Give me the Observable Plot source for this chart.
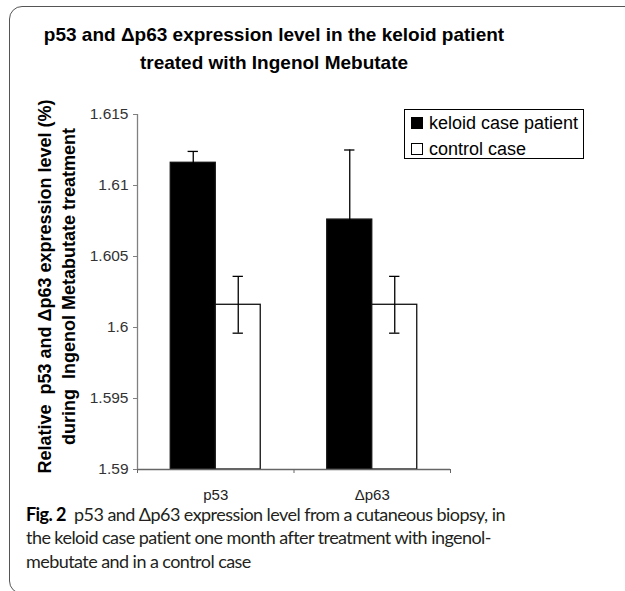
<!DOCTYPE html>
<html>
<head>
<meta charset="utf-8">
<script src="https://cdn.jsdelivr.net/npm/d3@7"></script>
<script src="https://cdn.jsdelivr.net/npm/@observablehq/plot@0.6"></script>
<style>
  html, body { margin: 0; padding: 0; background: #fff; }
  #wrap { position: relative; width: 625px; height: 591px; overflow: hidden; background: #fff; }
  #border { position: absolute; left: 9px; top: 6px; width: 700px; height: 588px; border: 1.3px solid #555; border-radius: 13px; box-sizing: border-box; }
  #title { position: absolute; left: 0; top: 21px; width: 548px; text-align: center; font: bold 19px "Liberation Sans", Arial, sans-serif; line-height: 28px; color: #000; }
  #chart { position: absolute; left: 0; top: 90px; }
  #legend { position: absolute; left: 404px; top: 109px; width: 180px; height: 50px; box-sizing: border-box; border: 1px solid #000; background: #fff; font: 18px "Liberation Sans", Arial, sans-serif; color: #000; }
  .row { position: absolute; left: 6px; height: 20px; line-height: 20px; white-space: nowrap; }
  .sw { position: absolute; left: 0; top: 4px; width: 12px; height: 12px; box-sizing: border-box; border: 1px solid #000; }
  .lab { position: absolute; left: 18px; top: 0; }
  #caption { position: absolute; left: 26px; top: 502.5px; width: 590px; font: 18px Lato, "Open Sans", sans-serif; letter-spacing: -0.56px; line-height: 23.5px; color: #231f20; white-space: nowrap; }
  #caption b { font-weight: 700; color: #000; }
</style>
</head>
<body>
<div id="wrap">
  <div id="border"></div>
  <div id="title">p53 and &#916;p63 expression level in the keloid patient<br>treated with Ingenol Mebutate</div>
  <div id="chart"></div>
  <div id="legend"></div>
  <div id="caption"><b>Fig. 2</b>&nbsp; p53 and &#916;p63 expression level from a cutaneous biopsy, in<br>the keloid case patient one month after treatment with ingenol-<br>mebutate and in a control case</div>
</div>
<script>
const categories = ["p53", "\u0394p63"];
const series = ["keloid case patient", "control case"];
const seriesFill = ["#000000", "#ffffff"];
const keloidValues = [1.6116, 1.6076];
const keloidErrors = [0.0008, 0.0049];
const controlValues = [1.6016, 1.6016];
const controlErrors = [0.0020, 0.0020];
const yTicks = [1.59, 1.595, 1.6, 1.605, 1.61, 1.615];
const yTitle = ["Relative\u00a0 p53 and \u0394p63 expression level (%)\nduring\u00a0 Ingenol Metabutate treatment"];

// style constants (fractions of one category slot)
const barWidth = 0.2875;
const capWidth = 0.066;

const yMin = yTicks[0], yMax = yTicks[yTicks.length - 1];
const rows = categories.flatMap((c, i) => [
  {category: c, series: series[0], value: keloidValues[i], err: keloidErrors[i], x1: i + 0.5 - barWidth, x2: i + 0.5},
  {category: c, series: series[1], value: controlValues[i], err: controlErrors[i], x1: i + 0.5, x2: i + 0.5 + barWidth}
]).map(d => ({...d, xc: (d.x1 + d.x2) / 2}));

const plot = Plot.plot({
  width: 625,
  height: 420,
  marginTop: 24,
  marginBottom: 41,
  marginLeft: 137,
  marginRight: 175,
  style: {fontFamily: "'Liberation Sans', Arial, sans-serif", background: "transparent", overflow: "visible"},
  x: {domain: [0, categories.length], label: null},
  y: {domain: [yMin, yMax], label: null},
  color: {domain: series, range: seriesFill},
  marks: [
    Plot.rect(rows, {x1: "x1", x2: "x2", y1: yMin, y2: "value", fill: "series", stroke: "#111", strokeWidth: 1.3}),
    Plot.ruleX(rows, {x: "xc", y1: d => d.value - d.err, y2: d => d.value + d.err, stroke: "#000", strokeWidth: 1.3}),
    Plot.ruleY(rows, {y: d => d.value + d.err, x1: d => d.xc - capWidth / 2, x2: d => d.xc + capWidth / 2, stroke: "#000", strokeWidth: 1.3}),
    Plot.ruleY(rows, {y: d => d.value - d.err, x1: d => d.xc - capWidth / 2, x2: d => d.xc + capWidth / 2, stroke: "#000", strokeWidth: 1.3}),
    Plot.ruleY([yMin], {stroke: "#666", strokeWidth: 1.3}),
    Plot.ruleX([0], {stroke: "#808080", strokeWidth: 1.3}),
    Plot.axisY({ticks: yTicks, tickFormat: d => String(+d.toFixed(3)), tickSize: 4, tickPadding: 5, fontSize: 15.5, label: null, stroke: "#808080", fill: "#333"}),
    Plot.axisX({ticks: d3.range(categories.length + 1), tickFormat: () => "", tickSize: 4, label: null, stroke: "#666"}),
    Plot.axisX({ticks: categories.map((c, i) => i + 0.5), tickFormat: d => categories[Math.floor(d)], tickSize: 0, tickPadding: 20, label: null, fontSize: 15, fill: "#222"}),
    Plot.text(yTitle, {frameAnchor: "left", rotate: -90, textAnchor: "middle", dx: -82, dy: -5.5, fontWeight: "bold", fontSize: 18, lineHeight: 1.333, fill: "#000"})
  ]
});
document.getElementById("chart").appendChild(plot);

const legend = document.getElementById("legend");
series.forEach((s, i) => {
  const row = document.createElement("div");
  row.className = "row";
  row.style.top = (3 + i * 26) + "px";
  const sw = document.createElement("div");
  sw.className = "sw";
  sw.style.background = seriesFill[i];
  const lab = document.createElement("div");
  lab.className = "lab";
  lab.textContent = s;
  row.appendChild(sw);
  row.appendChild(lab);
  legend.appendChild(row);
});
</script>
</body>
</html>
